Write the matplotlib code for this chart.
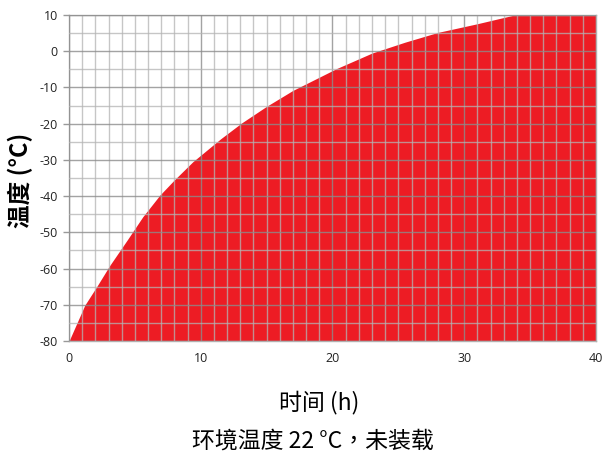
import matplotlib.pyplot as plt
from matplotlib.ticker import MultipleLocator

plt.rcParams['font.family'] = ['Open Sans', 'Noto Sans CJK SC', 'DejaVu Sans']
plt.rcParams['axes.unicode_minus'] = False

# cooling curve
hours = [0, 1.2, 2.1, 3.1, 4.4, 5.6, 6.9, 8.0, 9.4, 11.5, 13.1, 15.0, 17.0,
         20.3, 23.0, 25.5, 28.0, 31.0, 33.8, 40.0]
temps = [-80, -70.1, -65, -59.1, -52.2, -45.7, -39.7, -35.5, -30.5, -24.2, -19.8, -15.2,
         -10.8, -4.8, -0.5, 2.5, 5.2, 7.6, 10, 10]

x_ticks = [0, 10, 20, 30, 40]
y_ticks = [10, 0, -10, -20, -30, -40, -50, -60, -70, -80]

red = '#ED1C24'
cjk = ['Noto Sans CJK TC', 'DejaVu Sans']

fig = plt.figure(figsize=(6.03, 4.55), dpi=100)
ax = fig.add_axes([0.1144, 0.2505, 0.8740, 0.7165])

ax.fill_between(hours, temps, -80, color=red, linewidth=0, zorder=1)

ax.set_xlim(0, 40)
ax.set_ylim(-80, 10)
ax.set_xticks(x_ticks)
ax.set_yticks(y_ticks)
ax.xaxis.set_minor_locator(MultipleLocator(1))
ax.yaxis.set_minor_locator(MultipleLocator(5))

ax.set_axisbelow(False)
ax.grid(which='major', color='#8c8c8c', alpha=0.8, linewidth=1.0)
ax.grid(which='minor', color='#b4b4b4', alpha=0.75, linewidth=1.0)

for s in ax.spines.values():
    s.set_color('#b0b0b0')
    s.set_linewidth(1.0)

ax.tick_params(axis='x', which='both', length=0, pad=8, labelsize=9, colors='#222222')
ax.tick_params(axis='y', which='major', length=4, width=1, color='#999999', pad=4,
               labelsize=9, labelcolor='#222222')
ax.tick_params(axis='y', which='minor', length=0)

fig.text(0.034, 0.604, '温度 (°C)', rotation=90, ha='center', va='center',
         fontsize=17, fontweight='bold', family=cjk)
fig.text(0.529, 0.116, '时间 (h)', ha='center', va='center', fontsize=16.5, family=cjk)
fig.text(0.519, 0.031, '环境温度 22 °C，未装载', ha='center', va='center', fontsize=16.5,
         family=cjk)

fig.savefig('out.png', dpi=100)
